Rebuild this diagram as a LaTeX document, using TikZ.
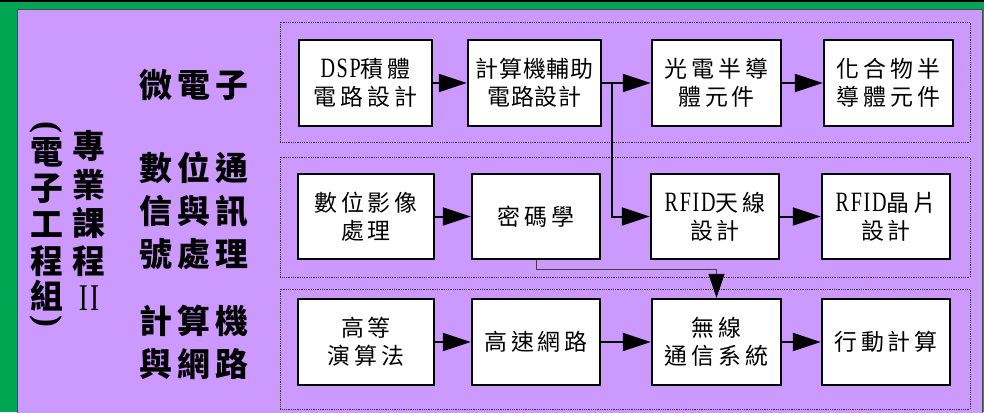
\documentclass[tikz,border=0pt]{standalone}
\usepackage{fontspec}
\usepackage{graphicx}
\setmainfont{Liberation Serif}
\newfontfamily\cjk[LetterSpace=17]{Noto Sans CJK TC}
\newfontfamily\cjkn[LetterSpace=4]{Noto Sans CJK TC}
\newfontfamily\cjkL[LetterSpace=15]{Noto Sans CJK TC}
\newfontfamily\cjkV{Noto Sans CJK TC}
\newfontfamily\lat[FakeStretch=0.72,LetterSpace=6,Scale=1.22]{Liberation Serif}
\usetikzlibrary{arrows.meta}
\definecolor{gr}{HTML}{00A651}
\definecolor{pu}{HTML}{CC99FF}
\begin{document}
\begin{tikzpicture}[x=1bp,y=-1bp,
  box/.style={draw=black,line width=2.4bp,fill=white,minimum height=86bp,inner sep=0pt,align=center,
    font=\cjk\fontsize{23}{28}\selectfont},
  arr/.style={line width=2bp,-{Triangle[length=28bp,width=18bp]}},
  thinarr/.style={line width=0.9bp,draw=black!75,-{Triangle[length=24bp,width=16bp,color=black,fill=black]}},
  grp/.style={densely dotted,line width=0.8bp,draw=black!80},
  lab/.style={align=center,inner sep=0pt,font=\cjkL\bfseries\fontsize{33}{43}\selectfont},
  vch/.style={inner sep=0pt,font=\cjkV\bfseries\fontsize{33}{33}\selectfont},
  parnode/.style={inner sep=0pt,font=\rmfamily\bfseries\fontsize{36}{36}\selectfont}]
\useasboundingbox (0,0) rectangle (984,412);
\fill[gr] (0,0) rectangle (984,412);
\draw[line width=1.5bp] (0,0.75) -- (984,0.75);
\filldraw[fill=pu,draw=black!70,line width=1bp] (17,9) rectangle (982,430);
% groups
\draw[grp] (280,22) rectangle (970,142);
\draw[grp] (280,157) rectangle (970,277);
\draw[grp] (280,289) rectangle (970,409);
% left labels
\node[lab] (l1) at (194,85) {微電子};
\node[lab] (l2) at (194,211) {數位通\\信與訊\\號處理};
\node[lab] (l3) at (194,342) {計算機\\與網路};
% vertical columns
\node[parnode] (va1) at (46,127) {\rotatebox{-90}{(}};
\node[vch] (va2) at (47,152) {電};
\node[vch] (va3) at (47,189) {子};
\node[vch] (va4) at (47,225) {工};
\node[vch] (va5) at (47,261) {程};
\node[vch] (va6) at (47,296) {組};
\node[parnode] (va7) at (46,321) {\rotatebox{-90}{)}};
\node[vch] (vb1) at (89,146) {專};
\node[vch] (vb2) at (89,185) {業};
\node[vch] (vb3) at (89,223) {課};
\node[vch] (vb4) at (89,261) {程};
\node[inner sep=0pt,font=\lat\fontsize{31}{31}\selectfont] (vb5) at (89,298) {II};
% row 1
\node[box,minimum width=133bp] (dsp) at (365.5,83) {{\lat DSP}積體\\電路設計};
\node[box,minimum width=133bp,font=\cjkn\fontsize{23}{28}\selectfont] (cad) at (534.5,83) {計算機輔助\\電路設計};
\node[box,minimum width=129bp] (gd) at (716.5,83) {光電半導\\體元件};
\node[box,minimum width=129bp] (hh) at (888.5,83) {化合物半\\導體元件};
% row 2
\node[box,minimum width=136bp,minimum height=85bp] (img) at (366,216.5) {數位影像\\處理};
\node[box,minimum width=128bp,minimum height=85bp] (mima) at (536,216.5) {密碼學};
\node[box,minimum width=128bp,minimum height=85bp] (rf1) at (715,216.5) {{\lat RFID}天線\\設計};
\node[box,minimum width=128bp,minimum height=85bp] (rf2) at (886,216.5) {{\lat RFID}晶片\\設計};
% row 3
\node[box,minimum width=136bp] (alg) at (366,342) {高等\\演算法};
\node[box,minimum width=128bp] (net) at (536,342) {高速網路};
\node[box,minimum width=129bp] (wl) at (716.5,342) {無線\\通信系統};
\node[box,minimum width=128bp] (mob) at (886,342) {行動計算};
% connectors
\coordinate (br) at (612,83);
\draw[arr] (dsp) -- (cad);
\draw[arr] (cad) -- (gd);
\draw[arr] (gd) -- (hh);
\draw[arr] (br) |- (rf1);
\draw[arr] (img) -- (mima);
\draw[arr] (rf1) -- (rf2);
\draw[thinarr] (mima.south) -- ++(0,9) -| (wl.north);
\draw[arr] (alg) -- (net);
\draw[arr] (net) -- (wl);
\draw[arr] (wl) -- (mob);
\end{tikzpicture}
\end{document}
